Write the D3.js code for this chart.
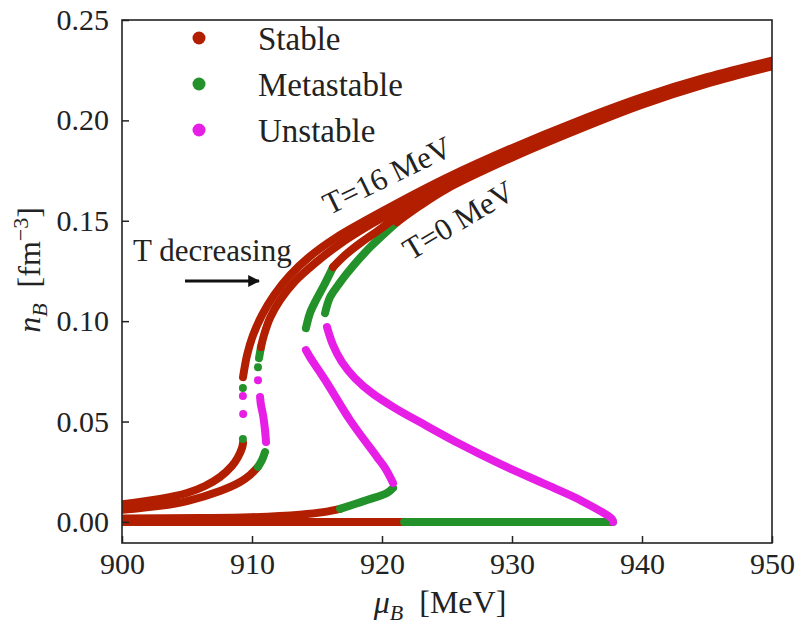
<!DOCTYPE html>
<html>
<head>
<meta charset="utf-8">
<script src="https://cdn.jsdelivr.net/npm/d3@7"></script>
<style>
  html, body { margin: 0; padding: 0; background: #fff; }
  svg { display: block; }
  text { font-family: "Liberation Serif", "Tinos", "Times New Roman", "DejaVu Serif", "Noto Serif", "FreeSerif", serif; fill: #222; }
</style>
</head>
<body>
<svg id="chart" width="798" height="627"></svg>
<script>
// ---- data: baryon density n_B [fm^-3] against chemical potential mu_B [MeV] ----
// Each branch is a list of [mu_B, n_B] samples along one stability segment.

// T = 16 MeV isotherm
const t16StableLow  = [[900,0.0088],[902.92,0.0114],[905.0,0.0144],[906.38,0.0179],[907.54,0.0224],[908.46,0.0279],[908.92,0.0323],[909.23,0.0368],[909.31,0.0393]];
const t16MetaDots   = [[909.3,0.0413],[909.3,0.0667]];
const t16UnstDots   = [[909.32,0.0537],[909.3,0.0627]];
const t16StableHigh = [[909.31,0.0721],[909.62,0.0831],[910.08,0.093],[910.77,0.103],[911.69,0.1129],[912.92,0.1229],[914.46,0.1323],[916.38,0.1413],[918.69,0.1500],[921.38,0.1595],[925.0,0.1715],[930.0,0.1862],[935.0,0.1995],[940.0,0.2115],[945.0,0.2215],[950.5,0.2305]];

// intermediate isotherm (upper)
const tHiStableLow  = [[900,0.006],[902.92,0.008],[905.0,0.0104],[907.54,0.0154],[909.08,0.0199],[909.85,0.0234],[910.46,0.0274]];
const tHiMetaLow    = [[910.46,0.0274],[910.77,0.0308],[911.0,0.0348]];
const tHiUnstable   = [[911.08,0.0398],[911.0,0.0458],[910.85,0.0532],[910.69,0.0582],[910.62,0.0622]];
const tHiUnstDots   = [[910.46,0.0706]];
const tHiMetaDots   = [[910.46,0.0771]];
const tHiMetaHigh   = [[910.54,0.0816],[910.69,0.0871]];
const tHiStableHigh = [[910.69,0.0871],[910.92,0.093],[911.38,0.1015],[912.15,0.1104],[913.31,0.1199],[914.85,0.1289],[916.77,0.1385],[919.08,0.1480],[921.77,0.1575],[925.0,0.1695],[930.0,0.1845],[935.0,0.1980],[940.0,0.2102],[945.0,0.2204],[950.5,0.2296]];

// intermediate isotherm (lower)
const tLoStableLow  = [[900,0.0017],[906,0.0019],[909.85,0.0023],[913.69,0.0036],[915.62,0.005],[916.77,0.0065]];
const tLoMetaLow    = [[916.77,0.0065],[918.85,0.0109],[920.38,0.0144],[920.85,0.0169]];
const tLoUnstable   = [[920.85,0.0194],[920.23,0.0269],[919.62,0.0323],[917.54,0.0507],[915.77,0.0692],[914.46,0.0821],[914.15,0.0856]];
const tLoMetaHigh   = [[914.15,0.0965],[914.46,0.104],[914.92,0.1104],[915.54,0.1179],[916.23,0.1269]];
const tLoStableHigh = [[916.23,0.1269],[917.15,0.1328],[918.31,0.1388],[919.85,0.1458],[921.38,0.1530],[925.0,0.1680],[930.0,0.1832],[935.0,0.1968],[940.0,0.2092],[945.0,0.2195],[950.5,0.2288]];

// T = 0 MeV
const t0StableLow   = [[900,0],[921.7,0]];
const t0MetaLow     = [[921.7,0],[937.77,0]];
const t0Unstable    = [[937.77,0],[937.69,0.0015],[935.23,0.0109],[932.69,0.0184],[929.08,0.0289],[926.0,0.0388],[923.31,0.0483],[921.0,0.0567],[919.23,0.0642],[917.92,0.0716],[916.92,0.0796],[916.23,0.0881],[915.77,0.097]];
const t0MetaHigh    = [[915.62,0.104],[916.0,0.1119],[916.62,0.1179],[917.31,0.1239],[919.08,0.1368],[921.15,0.1493]];
const t0StableHigh  = [[921.15,0.1493],[922.92,0.1575],[925.0,0.1660],[930.0,0.1815],[935.0,0.1952],[940.0,0.2078],[945.0,0.2183],[950.5,0.2277]];

// axes
const xTicks = [900, 910, 920, 930, 940, 950];
const yTicks = [0.00, 0.05, 0.10, 0.15, 0.20, 0.25];
const legendLabels = ["Stable", "Metastable", "Unstable"];

// ---- drawing ----
const colors = { stable: "#b21e00", meta: "#23922b", unstable: "#e61ee6" };

const series = [
  { pts: t0StableLow,   s: "stable",   k: "line" },
  { pts: tLoStableLow,  s: "stable",   k: "line" },
  { pts: t0MetaLow,     s: "meta",     k: "line" },
  { pts: t0Unstable,    s: "unstable", k: "line" },
  { pts: t0MetaHigh,    s: "meta",     k: "line" },
  { pts: tLoMetaLow,    s: "meta",     k: "line" },
  { pts: tLoUnstable,   s: "unstable", k: "line" },
  { pts: tLoMetaHigh,   s: "meta",     k: "line" },
  { pts: tHiStableLow,  s: "stable",   k: "line" },
  { pts: tHiMetaLow,    s: "meta",     k: "line" },
  { pts: tHiUnstable,   s: "unstable", k: "line" },
  { pts: tHiUnstDots,   s: "unstable", k: "dots" },
  { pts: tHiMetaDots,   s: "meta",     k: "dots" },
  { pts: tHiMetaHigh,   s: "meta",     k: "line" },
  { pts: t16StableLow,  s: "stable",   k: "line" },
  { pts: t16MetaDots,   s: "meta",     k: "dots" },
  { pts: t16UnstDots,   s: "unstable", k: "dots" },
  { pts: t0StableHigh,  s: "stable",   k: "line" },
  { pts: tLoStableHigh, s: "stable",   k: "line" },
  { pts: tHiStableHigh, s: "stable",   k: "line" },
  { pts: t16StableHigh, s: "stable",   k: "line" }
];

const svg = d3.select("#chart");
const L = 122, R = 772, T = 20, B = 543;

const x = d3.scaleLinear().domain([900, 950]).range([L, R]);
const y = d3.scaleLinear().domain([-0.0105, 0.25]).range([B, T]);

svg.append("defs").append("clipPath").attr("id", "plotClip")
  .append("rect").attr("x", L).attr("y", T).attr("width", R - L).attr("height", B - T);

const plot = svg.append("g").attr("clip-path", "url(#plotClip)");
const line = d3.line().x(d => x(d[0])).y(d => y(d[1])).curve(d3.curveCatmullRom.alpha(0.5));

series.forEach(sr => {
  if (sr.k === "line") {
    plot.append("path")
      .attr("d", line(sr.pts))
      .attr("fill", "none")
      .attr("stroke", colors[sr.s])
      .attr("stroke-width", 8)
      .attr("stroke-linecap", "round")
      .attr("stroke-linejoin", "round");
  } else {
    plot.selectAll(null).data(sr.pts).enter().append("circle")
      .attr("cx", d => x(d[0])).attr("cy", d => y(d[1]))
      .attr("r", 4).attr("fill", colors[sr.s]);
  }
});

// axes with inward ticks
const xAxis = svg.append("g").attr("transform", `translate(0,${B})`)
  .call(d3.axisBottom(x).tickValues(xTicks).tickSize(-7).tickPadding(10).tickFormat(d3.format("d")));
const yAxis = svg.append("g").attr("transform", `translate(${L},0)`)
  .call(d3.axisLeft(y).tickValues(yTicks).tickSize(-7).tickPadding(13).tickFormat(d3.format(".2f")));
[xAxis, yAxis].forEach(g => {
  g.attr("font-family", null);
  g.select(".domain").remove();
  g.selectAll(".tick line").attr("stroke", "#222").attr("stroke-width", 1.5);
  g.selectAll(".tick text").attr("font-size", 30).attr("fill", "#222");
});
xAxis.selectAll(".tick text").attr("dy", "0.71em");

// frame
svg.append("rect").attr("x", L).attr("y", T).attr("width", R - L).attr("height", B - T)
  .attr("fill", "none").attr("stroke", "#222").attr("stroke-width", 1.6);

// axis titles
const xl = svg.append("text").attr("x", 440).attr("y", 613).attr("text-anchor", "middle").attr("font-size", 32);
xl.append("tspan").attr("font-style", "italic").text("μ");
xl.append("tspan").attr("font-style", "italic").attr("font-size", 22).attr("dy", 7).text("B");
xl.append("tspan").attr("dy", -7).text("\u2002[MeV]");

const yl = svg.append("text").attr("transform", "translate(40,270) rotate(-90)")
  .attr("text-anchor", "middle").attr("font-size", 32);
yl.append("tspan").attr("font-style", "italic").text("n");
yl.append("tspan").attr("font-style", "italic").attr("font-size", 22).attr("dy", 7).text("B");
yl.append("tspan").attr("dy", -7).text("\u2002[fm");
yl.append("tspan").attr("font-size", 22).attr("dy", -12).text("\u22123");
yl.append("tspan").attr("dy", 12).text("]");

// legend
const legend = svg.append("g");
legendLabels.forEach((lab, i) => {
  const key = ["stable", "meta", "unstable"][i];
  const cy = 38 + i * 46;
  legend.append("circle").attr("cx", 199).attr("cy", cy).attr("r", 6.5).attr("fill", colors[key]);
  legend.append("text").attr("x", 258).attr("y", cy).attr("dy", "0.35em").attr("font-size", 33).text(lab);
});

// annotations
svg.append("text").attr("transform", "translate(387,175) rotate(-26)")
  .attr("text-anchor", "middle").attr("dy", "0.35em").attr("font-size", 31).text("T=16 MeV");
svg.append("text").attr("transform", "translate(458,220) rotate(-31)")
  .attr("text-anchor", "middle").attr("dy", "0.35em").attr("font-size", 31).text("T=0 MeV");
svg.append("text").attr("x", 133).attr("y", 261).attr("font-size", 31).text("T decreasing");

svg.append("defs").append("marker").attr("id", "arrowHead")
  .attr("viewBox", "0 0 10 10").attr("refX", 9).attr("refY", 5)
  .attr("markerWidth", 4).attr("markerHeight", 4).attr("orient", "auto")
  .append("path").attr("d", "M0,0 L10,5 L0,10 Z").attr("fill", "#111");
svg.append("line").attr("x1", 185).attr("y1", 281).attr("x2", 259).attr("y2", 281)
  .attr("stroke", "#111").attr("stroke-width", 3).attr("marker-end", "url(#arrowHead)");
</script>
</body>
</html>
